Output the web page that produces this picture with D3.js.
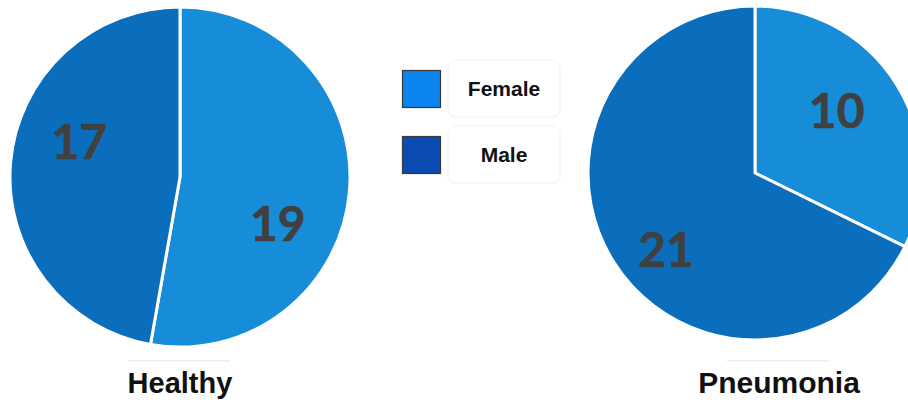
<!DOCTYPE html>
<html><head><meta charset="utf-8">
<script src="https://cdn.jsdelivr.net/npm/d3@7"></script>
<style>html,body{margin:0;padding:0;background:#fff;overflow:hidden}</style>
</head><body>
<svg id="chart" width="908" height="403"></svg>
<script>
// Data
const categories = ["Female", "Male"];
const groups = ["Healthy", "Pneumonia"];
const healthyValues = [19, 17];
const pneumoniaValues = [10, 21];

// Layout (not data)
const sliceColors = ["#178cd8", "#0a6ebd"];
const legendColors = ["#0a84ee", "#0a4cb2"];
const pies = [
  {name: groups[0], values: healthyValues, cx: 180, cy: 177, r: 170, titleX: 180,
   nudge: [20, 15], labelK: [0.635, 0.63]},
  {name: groups[1], values: pneumoniaValues, cx: 755, cy: 173, r: 167, titleX: 779,
   nudge: [-6, -8.5], labelK: [0.62, 0.70]}
];

const svg = d3.select("#chart");
const pieGen = d3.pie().sort(null).value(d => d);

pies.forEach(p => {
  const g = svg.append("g").attr("transform", `translate(${p.cx},${p.cy})`);
  const arc = d3.arc().innerRadius(0).outerRadius(p.r);
  const arcs = pieGen(p.values);
  g.selectAll("path").data(arcs).join("path")
    .attr("d", arc)
    .attr("fill", (d, i) => sliceColors[i])
    .attr("stroke", "#fff").attr("stroke-width", 3).attr("stroke-linejoin", "round");
  g.selectAll("text").data(arcs).join("text")
    .attr("x", (d, i) => { const a = (d.startAngle + d.endAngle) / 2 + p.nudge[i] * Math.PI / 180; return Math.sin(a) * p.r * p.labelK[i]; })
    .attr("y", (d, i) => { const a = (d.startAngle + d.endAngle) / 2 + p.nudge[i] * Math.PI / 180; return -Math.cos(a) * p.r * p.labelK[i]; })
    .attr("text-anchor", "middle").attr("dominant-baseline", "central")
    .attr("font-family", "Lato, 'Open Sans', sans-serif").attr("font-weight", 700)
    .attr("font-size", 48).attr("fill", "#404040")
    .attr("stroke", "#404040").attr("stroke-width", 0.6)
    .text(d => d.data);
  // faint underline artifact
  svg.append("rect").attr("x", p.titleX - 52).attr("y", 360).attr("width", 102).attr("height", 1.5)
    .attr("fill", "#ececec");
  svg.append("text").attr("x", p.titleX).attr("y", 393).attr("text-anchor", "middle")
    .attr("font-family", "'Liberation Sans', Arial, sans-serif").attr("font-weight", 700)
    .attr("font-size", p.name === "Healthy" ? 29 : 30).attr("fill", "#111")
    .text(p.name);
});

// Legend
const legend = svg.append("g");
const legY = [70, 136];
categories.forEach((c, i) => {
  legend.append("rect").attr("x", 448).attr("y", legY[i] - 10).attr("width", 112).attr("height", 57)
    .attr("rx", 8).attr("fill", "none").attr("stroke", "#f5f5f5").attr("stroke-width", 1.5);
  legend.append("rect").attr("x", 402.5).attr("y", legY[i] + 0.5).attr("width", 38).attr("height", 37)
    .attr("fill", legendColors[i]).attr("stroke", "#3a3a3a").attr("stroke-width", 1.2);
  legend.append("text").attr("x", 504).attr("y", legY[i] + 26).attr("text-anchor", "middle")
    .attr("font-family", "'Liberation Sans', Arial, sans-serif").attr("font-weight", 700)
    .attr("font-size", 21).attr("fill", "#111").text(c);
});
</script>
</body></html>
